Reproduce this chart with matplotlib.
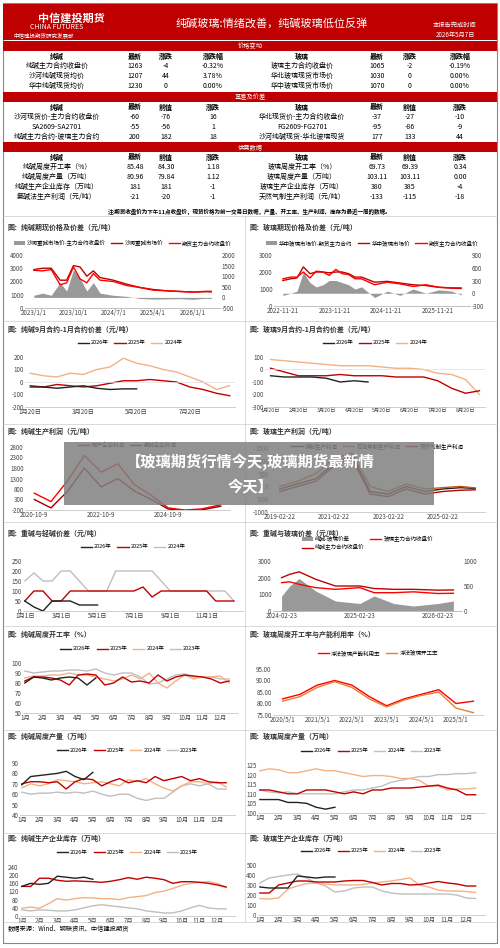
import numpy as np
import matplotlib.pyplot as plt
from matplotlib.patches import Rectangle

plt.rcParams['font.family'] = ['Noto Sans CJK SC', 'DejaVu Sans']
plt.rcParams['axes.unicode_minus'] = False

RED = '#c00000'
BLACK = '#222222'
ORANGE = '#f4b183'
GREY = '#bfbfbf'
SEASON_COLORS = {'2026年': BLACK, '2025年': RED, '2024年': ORANGE, '2023年': GREY}

# ---- tables ----
price_rows = [
    ['纯碱主力合约收盘价', '1263', '-4', '-0.32%', '玻璃主力合约收盘价', '1065', '-2', '-0.19%'],
    ['沙河纯碱现货均价', '1207', '44', '3.78%', '华北玻璃现货市场价', '1030', '0', '0.00%'],
    ['华中纯碱现货均价', '1230', '0', '0.00%', '华中玻璃现货市场价', '1070', '0', '0.00%'],
]
basis_rows = [
    ['沙河现货价-主力合约收盘价', '-60', '-76', '16', '华北现货价-主力合约收盘价', '-37', '-27', '-10'],
    ['SA2609-SA2701', '-55', '-56', '1', 'FG2609-FG2701', '-95', '-86', '-9'],
    ['纯碱主力合约-玻璃主力合约', '200', '182', '18', '沙河纯碱现货-华北玻璃现货', '177', '133', '44'],
]
supply_rows = [
    ['纯碱周度开工率（%）', '85.48', '84.30', '1.18', '玻璃周度开工率（%）', '69.73', '69.39', '0.34'],
    ['纯碱周度产量（万吨）', '80.96', '79.84', '1.12', '玻璃周度产量（万吨）', '103.11', '103.11', '0.00'],
    ['纯碱生产企业库存（万吨）', '181', '181', '-1', '玻璃生产企业库存（万吨）', '380', '385', '-4'],
    ['氨碱法生产利润（元/吨）', '-21', '-20', '-1', '天然气制生产利润（元/吨）', '-133', '-115', '-18'],
]

# ---- chart data (coarse) ----
sa_dates = ['2023-01-01', '2023-03-01', '2023-05-01', '2023-07-01', '2023-08-15', '2023-10-01', '2023-11-15',
            '2024-01-01', '2024-02-15', '2024-04-01', '2024-07-01', '2024-10-01', '2025-01-01', '2025-04-01',
            '2025-07-01', '2025-10-01', '2026-01-01', '2026-04-01', '2026-05-07']
sa_spot = [2900, 3000, 3000, 2100, 2100, 3200, 3100, 2400, 2800, 2300, 2100, 1800, 1550, 1400, 1300, 1250,
           1200, 1230, 1210]
sa_fut = [2850, 2800, 2900, 1750, 1900, 3100, 2200, 1900, 2600, 2100, 2000, 1700, 1550, 1350, 1300, 1250,
          1200, 1260, 1263]
sa_basis = [100, 200, 100, 700, 300, 1300, 900, 300, 700, 200, 100, 50, -50, -80, -70, -60, -90, -40, -60]

fg_dates = ['2022-11-21', '2023-01-15', '2023-03-01', '2023-04-15', '2023-06-01', '2023-07-15', '2023-09-01',
            '2023-10-15', '2023-12-01', '2024-01-15', '2024-03-01', '2024-04-15', '2024-06-01', '2024-09-01',
            '2024-12-01', '2025-03-01', '2025-06-01', '2025-09-01', '2025-12-01', '2026-03-01', '2026-05-07']
fg_spot = [1500, 1600, 1650, 2300, 1900, 2000, 2000, 1950, 2000, 2000, 1900, 1700, 1700, 1400, 1450, 1350,
           1250, 1200, 1100, 1050, 1030]
fg_fut = [1600, 1700, 1700, 2000, 1650, 2050, 2000, 1800, 2150, 1900, 1850, 1600, 1600, 1250, 1400, 1300,
          1150, 1250, 1100, 1070, 1065]
fg_basis = [-50, 0, 50, 500, 250, 150, 200, 300, 300, 250, 200, 100, 150, -100, 50, -50, 100, 0, 80, 50, -37]

spread_x = [1, 1.5, 2, 2.5, 3, 3.5, 4, 4.5, 5, 5.5, 6, 6.5, 7, 7.5, 8, 8.5]
sa_sp_2026 = [-40, -40, -50, -40, -30, -50, -60, -55, -55]
sa_sp_2025 = [-30, -40, -20, -30, -40, -30, -10, 10, 10, 20, 10, 0, -40, -60, -90, -110]
sa_sp_2024 = [70, 50, 40, 70, 60, 100, 120, 190, 150, 130, 100, 80, 40, 0, -60, -30]
fg_sp_2026 = [-50, -60, -60, -60, -70, -100, -90, -100]
fg_sp_2025 = [10, -20, -50, -50, -50, -40, -50, -50, -50, -60, -60, -60, -90, -150, -190, -170]
fg_sp_2024 = [80, 70, 60, 50, 40, 30, 30, 30, 20, 10, 10, 0, -30, -40, -80, -200]

profit_x = ['2020-10-09', '2021-04-09', '2021-10-09', '2022-04-09', '2022-10-09', '2023-04-09', '2023-10-09',
            '2024-04-09', '2024-10-09', '2025-04-09', '2025-10-09', '2026-05-07']
profit_lian = [600, 200, 1200, 2400, 1600, 2000, 1000, 500, -100, -200, -150, 50]
profit_an = [300, -100, 700, 1800, 900, 1300, 700, 300, -150, -250, -200, -21]
gprof_x = ['2019-02-22', '2019-10-22', '2020-06-22', '2021-02-22', '2021-10-22', '2022-06-22',
           '2023-02-22', '2023-10-22', '2024-06-22', '2025-02-22', '2025-10-22', '2026-05-07']
gprof_coal = [-100, 100, 300, 900, 1200, -200, -300, 0, -200, -100, -50, -80]
gprof_oil = [0, 200, 500, 1100, 1300, 0, -200, 100, -100, -50, 0, -60]
gprof_gas = [-200, 0, 200, 800, 1100, -300, -400, -100, -300, -200, -150, -133]

heavy_x = [1, 1.5, 2, 2.5, 3, 3.5, 4, 4.5, 5, 5.5, 6, 6.5, 7, 7.5, 8, 8.5, 9, 9.5, 10, 10.5, 11, 11.5, 12, 12.5]
heavy_2026 = [50, 20, 0, 50, 50, 50, 30, 30, 30]
heavy_2025 = [50, 100, 100, 50, 50, 100, 100, 100, 100, 100, 100, 100, 100, 120, 70, 100, 100, 100, 100, 100,
              100, 50, 50, 50]
heavy_2024 = [150, 190, 150, 150, 200, 200, 150, 100, 100, 100, 200, 200, 200, 200, 200, 150, 100, 100, 100,
              100, 100, 100, 100, 50]

hg_dates = ['2024-02-23', '2024-04-01', '2024-05-15', '2024-08-01', '2024-11-01', '2025-02-23', '2025-05-01',
            '2025-08-01', '2025-11-01', '2026-02-23', '2026-05-07']
hg_sa = [2000, 2200, 2350, 1900, 1500, 1500, 1350, 1300, 1300, 1250, 1263]
hg_fg = [1700, 1750, 1600, 1400, 1300, 1400, 1100, 1100, 1150, 1050, 1065]
hg_diff = [300, 500, 650, 400, 200, 150, 300, 150, 100, 150, 200]

rate_x = [1, 1.5, 2, 2.5, 3, 3.5, 4, 4.5, 5, 5.5, 6, 6.5, 7, 7.5, 8, 8.5, 9, 9.5, 10, 10.5, 11, 11.5, 12, 12.5]
sa_rate_2026 = [80, 86, 85, 83, 85, 86, 85, 78, 85]
sa_rate_2025 = [82, 86, 86, 85, 83, 78, 88, 89, 88, 78, 80, 86, 81, 82, 80, 88, 82, 86, 88, 87, 86, 84, 80, 82]
sa_rate_2024 = [85, 87, 87, 88, 88, 90, 88, 88, 86, 84, 82, 84, 88, 84, 90, 80, 75, 82, 88, 84, 86, 86, 87, 80]
sa_rate_2023 = [92, 90, 91, 92, 92, 93, 93, 92, 94, 90, 88, 90, 90, 86, 79, 80, 84, 88, 89, 86, 86, 86, 84, 84]
fg_rate_x = ['2020-05-01', '2020-11-01', '2021-05-01', '2021-11-01', '2022-05-01', '2022-11-01', '2023-05-01',
             '2023-11-01', '2024-05-01', '2024-11-01', '2025-05-01', '2025-11-01']
fg_capacity = [82, 84, 88, 90, 88, 83, 79, 82, 84, 86, 80, 81]
fg_running = [81, 83, 87, 89.5, 87, 82, 78.5, 81.5, 83.5, 85, 78, 76]

sa_out_2026 = [69, 77, 78, 79, 80, 82, 77, 74, 81]
sa_out_2025 = [70, 72, 72, 71, 72, 65, 72, 75, 74, 68, 72, 75, 71, 73, 71, 77, 73, 75, 77, 73, 75, 72, 71, 71]
sa_out_2024 = [66, 70, 68, 70, 74, 73, 72, 70, 71, 72, 70, 68, 74, 72, 75, 70, 66, 63, 68, 72, 72, 70, 72, 67]
sa_out_2023 = [62, 60, 61, 61, 62, 61, 62, 61, 63, 60, 58, 60, 60, 56, 54, 56, 56, 62, 68, 70, 68, 70, 65, 65]
fg_out_2026 = [107, 107, 107, 105.5, 105.5, 105, 103, 102, 103]
fg_out_2025 = [112, 112, 111, 110, 110, 112, 112, 112, 111, 110, 111, 110, 112, 112, 113, 113, 113, 113.5, 114,
               114.5, 113, 112, 109.5, 109.5]
fg_out_2024 = [122, 123, 122.5, 121, 121, 122, 123, 122, 122, 121, 120, 119, 119.5, 119.5, 119, 118, 118, 117,
               114, 114, 112, 112.5, 112.5, 113]
fg_out_2023 = [112, 111, 110.5, 111, 110, 110, 110, 110, 110, 111, 112, 112, 113, 114, 116, 117, 118, 119, 119,
               120, 120, 120.5, 120.5, 121]

sa_inv_2026 = [145, 160, 155, 160, 195, 190, 185, 190, 180]
sa_inv_2025 = [145, 145, 185, 185, 175, 170, 172, 170, 168, 165, 170, 178, 188, 180, 190, 185, 178, 160, 168,
               168, 165, 160, 152, 142]
sa_inv_2024 = [38, 44, 38, 60, 85, 78, 85, 90, 88, 85, 85, 80, 90, 95, 100, 115, 122, 135, 150, 160, 165, 168,
               160, 140]
sa_inv_2023 = [30, 25, 30, 28, 25, 25, 30, 40, 50, 55, 50, 45, 40, 35, 25, 20, 15, 15, 25, 40, 52, 40, 35, 35]
fg_inv_2026 = [280, 270, 270, 270, 390, 380, 370, 380, 380]
fg_inv_2025 = [220, 220, 300, 320, 340, 340, 330, 330, 330, 340, 345, 345, 325, 300, 315, 315, 300, 305, 320,
               335, 320, 310, 290, 290]
fg_inv_2024 = [165, 160, 170, 260, 290, 315, 320, 310, 300, 300, 300, 305, 320, 330, 340, 355, 370, 300, 280,
               250, 240, 240, 235, 225]
fg_inv_2023 = [320, 370, 385, 400, 410, 370, 320, 290, 230, 240, 270, 280, 280, 240, 220, 210, 210, 210, 210,
               210, 210, 200, 170, 165]


fig = plt.figure(figsize=(5, 9.48), dpi=100)


def box(x, y, w, h):
    return [x / 500, 1 - (y + h) / 948, w / 500, h / 948]


def ftext(x, y, s, **kw):
    kw.setdefault('fontsize', 5)
    kw.setdefault('ha', 'center')
    kw.setdefault('va', 'center')
    fig.text(x / 500, 1 - y / 948, s, **kw)


def frect(x, y, w, h, **kw):
    fig.patches.append(Rectangle((x / 500, 1 - (y + h) / 948), w / 500, h / 948,
                                 transform=fig.transFigure, figure=fig, **kw))


def dt(lst):
    return np.array([np.datetime64(s) for s in lst])


# outer frame and header
frect(3, 3, 494, 940, fill=False, ec='#888888', lw=0.8)
frect(3, 4, 494, 36, fc='#c00000', ec='none')
ftext(38, 18, '中信建投期货', fontsize=8, color='white', weight='bold', ha='left')
ftext(30, 27, 'CHINA FUTURES', fontsize=5, color='white', ha='left')
ftext(14, 35, '中信建投期货研究发展部', fontsize=4, color='white', ha='left')
ftext(272, 23, '纯碱玻璃:情绪改善，纯碱玻璃低位反弹', fontsize=8, color='white')
ftext(455, 25, '本报告完成时间', fontsize=4.5, color='white')
ftext(455, 35, '2026年5月7日', fontsize=4.5, color='white')

cols = [57, 135, 166, 213, 302, 377, 410, 460]


def section(y0, title, head, rows):
    frect(3, y0, 494, 9.5, fc='#c00000', ec='none')
    ftext(250, y0 + 5, title, color='white', fontsize=4.5)
    y = y0 + 15
    for c, s in zip(cols, head):
        ftext(c, y, s, weight='bold')
    for r in rows:
        y += 10
        for c, s in zip(cols, r):
            ftext(c, y, s)
    return y


section(41, '价格变动', ['纯碱', '最新', '涨跌', '涨跌幅', '玻璃', '最新', '涨跌', '涨跌幅'], price_rows)
section(92, '基差及价差', ['纯碱', '最新', '前值', '涨跌', '玻璃', '最新', '前值', '涨跌'], basis_rows)
section(142, '供需数据', ['纯碱', '最新', '前值', '涨跌', '玻璃', '最新', '前值', '涨跌'], supply_rows)
ftext(250, 212, '注:期货收盘价为下午11点收盘价，现货价格为前一交易日数据，产量、开工率、生产利润、库存为最近一周的数据。',
      fontsize=4, weight='bold')


def style(ax, yt, ylim, xt=None, xl=None):
    ax.set_ylim(ylim)
    ax.set_yticks(yt)
    ax.tick_params(labelsize=4.5, length=0, pad=1, colors='#444444')
    for s in ['top', 'right', 'left']:
        ax.spines[s].set_visible(False)
    ax.spines['bottom'].set_color('#bbbbbb')
    ax.spines['bottom'].set_linewidth(0.5)
    if xt is not None:
        ax.set_xticks(xt)
        ax.set_xticklabels(xl)


def legend(ax, handles_labels, ypx, ncol=None):
    hs = [h for h, _ in handles_labels]
    ls = [l for _, l in handles_labels]
    h = ax.get_position().height * 948
    ax.legend(hs, ls, loc='center', bbox_to_anchor=(0.5, 1 + ypx / h), ncol=ncol or len(hs), fontsize=4,
              frameon=False, handlelength=2, columnspacing=1, borderaxespad=0, handletextpad=0.4)


def panel_title(x, y, s):
    ftext(x, y, s, fontsize=5, weight='bold', ha='left', color='#333333')


month_x = [1, 2, 3, 4, 5, 6, 7, 8, 9, 10, 11, 12]
month_l = [f'{m}月' for m in month_x]


def seasonal(rect, series, yt, ylim):
    ax = fig.add_axes(box(*rect))
    hl = []
    for lab, vals in series:
        h, = ax.plot(rate_x[:len(vals)], vals, color=SEASON_COLORS[lab], lw=1)
        hl.append((h, lab))
    style(ax, yt, ylim, month_x, month_l)
    ax.set_xlim(0.9, 13)
    return ax, hl


# row1: price + basis
panel_title(8, 227, '图：纯碱期现价格及价差（元/吨）')
panel_title(249, 227, '图：玻璃期现价格及价差（元/吨）')
for rect, dates, basis, spot, fut, yt, ylim, y2t, y2lim, xt, labs in [
        ((25, 255, 195, 53), sa_dates, sa_basis, sa_spot, sa_fut, [0, 1000, 2000, 3000, 4000], (0, 4000),
         [-500, 0, 500, 1000, 1500, 2000], (-500, 2000),
         ['2023-01-01', '2023-10-01', '2024-07-01', '2025-04-01', '2026-01-01'],
         ['沙河重碱市场价-主力合约收盘价', '沙河重碱市场价', '期货主力合约收盘价']),
        ((274, 255, 196, 51), fg_dates, fg_basis, fg_spot, fg_fut, [0, 1000, 2000, 3000], (0, 3000),
         [-300, 0, 300, 600, 900], (-300, 900),
         ['2022-11-21', '2023-11-21', '2024-11-21', '2025-11-21'],
         ['华中玻璃市场价-期货主力合约', '华中玻璃市场价', '期货主力合约收盘价'])]:
    ax = fig.add_axes(box(*rect))
    d = dt(dates)
    ax2 = ax.twinx()
    ax2.fill_between(d, 0, basis, color='#999999', lw=0)
    h1, = ax.plot(d, spot, color=RED, lw=1)
    h2, = ax.plot(d, fut, color='#ff0000', lw=1)
    ax.set_zorder(2)
    ax.patch.set_visible(False)
    style(ax, yt, ylim)
    style(ax2, y2t, y2lim)
    ax.set_xticks(dt(xt))
    if dates is sa_dates:
        ax.set_xticklabels([s[:4] + '/' + str(int(s[5:7])) + '/1' for s in xt])
    else:
        ax.set_xticklabels(xt)
    legend(ax, [(Rectangle((0, 0), 1, 1, fc='#999999'), labs[0]), (h1, labs[1]), (h2, labs[2])], 12)

# row2: 9-1 spreads
panel_title(8, 329, '图：纯碱9月合约-1月合约价差（元/吨）')
panel_title(249, 329, '图：玻璃9月合约-1月合约价差（元/吨）')
for rect, s26, s25, s24, yt, ylim, xt in [
        ((25, 357, 210, 50), sa_sp_2026, sa_sp_2025, sa_sp_2024, [-200, -100, 0, 100, 200], (-200, 200),
         [1, 3, 5, 7]),
        ((265, 357, 220, 50), fg_sp_2026, fg_sp_2025, fg_sp_2024, [-300, -200, -100, 0, 100], (-300, 100),
         [1, 2, 3, 4, 5, 6, 7, 8])]:
    ax = fig.add_axes(box(*rect))
    h3, = ax.plot(spread_x[:len(s24)], s24, color=ORANGE, lw=1)
    h2, = ax.plot(spread_x[:len(s25)], s25, color=RED, lw=1)
    h1, = ax.plot(spread_x[:len(s26)], s26, color=BLACK, lw=1)
    style(ax, yt, ylim, xt, [f'{m}月20日' for m in xt])
    ax.tick_params(axis='x', labelsize=3.8 if len(xt) > 4 else 4.5)
    ax.set_xlim(0.8, 8.7)
    ax.axhline(0, color='#dddddd', lw=0.5)
    legend(ax, [(h1, '2026年'), (h2, '2025年'), (h3, '2024年')], 14)

# row3: profits
panel_title(8, 431, '图：纯碱生产利润（元/吨）')
panel_title(249, 431, '图：玻璃生产利润（元/吨）')
ax = fig.add_axes(box(25, 447, 205, 63))
d = dt(profit_x)
h1, = ax.plot(d, profit_lian, color='#ff0000', lw=1)
h2, = ax.plot(d, profit_an, color='#a00000', lw=1)
style(ax, [-200, 300, 800, 1300, 1800, 2300, 2800], (-200, 2800))
xt = ['2020-10-09', '2022-10-09', '2024-10-09']
ax.set_xticks(dt(xt))
ax.set_xticklabels(['2020-10-9', '2022-10-9', '2024-10-9'])
legend(ax, [(h1, '联产企业利润'), (h2, '氨碱企业利润')], 2)
ax = fig.add_axes(box(270, 448, 215, 64))
d = dt(gprof_x)
h1, = ax.plot(d, gprof_coal, color=BLACK, lw=1)
h2, = ax.plot(d, gprof_oil, color='#c55a11', lw=1)
h3, = ax.plot(d, gprof_gas, color=RED, lw=1)
style(ax, [-1000, -500, 0, 500, 1000, 1500], (-1000, 1500))
xt = ['2019-02-22', '2021-02-22', '2023-02-22', '2025-02-22']
ax.set_xticks(dt(xt))
ax.set_xticklabels(xt)
legend(ax, [(h1, '煤制生产利润'), (h2, '石油焦制生产利润'), (h3, '天然气制生产利润')], 2)

# row4
panel_title(8, 533, '图：重碱与轻碱价差（元/吨）')
panel_title(249, 533, '图：重碱与玻璃价差（元/吨）')
ax = fig.add_axes(box(23, 561, 220, 50))
h3, = ax.plot(heavy_x, heavy_2024, color=GREY, lw=1)
h2, = ax.plot(heavy_x, heavy_2025, color=RED, lw=1)
h1, = ax.plot(heavy_x[:len(heavy_2026)], heavy_2026, color=BLACK, lw=1)
style(ax, [0, 50, 100, 150, 200, 250], (0, 250), [1, 3, 5, 7, 9, 11], ['1月1日', '3月1日', '5月1日', '7月1日',
                                                                      '9月1日', '11月1日'])
ax.set_xlim(0.9, 13)
legend(ax, [(h1, '2026年'), (h2, '2025年'), (h3, '2024年')], 14)
ax = fig.add_axes(box(273, 561, 189, 50))
d = dt(hg_dates)
ax2 = ax.twinx()
ax2.fill_between(d, 0, hg_diff, color='#999999', lw=0)
h1, = ax.plot(d, hg_sa, color=RED, lw=1)
h2, = ax.plot(d, hg_fg, color='#ff0000', lw=1)
ax.set_zorder(2)
ax.patch.set_visible(False)
style(ax, [0, 1000, 2000, 3000], (0, 3000))
style(ax2, [0, 500, 1000], (0, 1000))
xt = ['2024-02-23', '2025-02-23', '2026-02-23']
ax.set_xticks(dt(xt))
ax.set_xticklabels(xt)
legend(ax, [(Rectangle((0, 0), 1, 1, fc='#999999'), '纯碱-玻璃价差'), (h1, '纯碱主力合约收盘价'),
            (h2, '玻璃主力合约收盘价')], 18, ncol=2)

# row5
panel_title(8, 634, '图：纯碱周度开工率（%）')
panel_title(249, 634, '图：玻璃周度开工率与产能利用率（%）')
ax, hl = seasonal((23, 663, 215, 50), [('2023年', sa_rate_2023), ('2024年', sa_rate_2024),
                                        ('2025年', sa_rate_2025), ('2026年', sa_rate_2026)],
                  [50, 60, 70, 80, 90, 100], (50, 100))
legend(ax, hl[::-1], 14)
ax = fig.add_axes(box(273, 669, 210, 46))
d = dt(fg_rate_x)
h1, = ax.plot(d, fg_capacity, color='#ff0000', lw=1)
h2, = ax.plot(d, fg_running, color='#ed7d31', lw=1)
style(ax, [75, 80, 85, 90, 95], (75, 95))
ax.set_yticklabels(['75.00', '80.00', '85.00', '90.00', '95.00'])
ax.set_xticks(d[::2])
ax.set_xticklabels([s[:4] + '/5/1' for s in fg_rate_x[::2]])
legend(ax, [(h1, '浮法玻璃产能利用率'), (h2, '浮法玻璃开工率')], 16)

# row6
panel_title(8, 736, '图：纯碱周度产量（万吨）')
panel_title(249, 736, '图：玻璃周度产量（万吨）')
ax, hl = seasonal((20, 763, 215, 52), [('2023年', sa_out_2023), ('2024年', sa_out_2024),
                                        ('2025年', sa_out_2025), ('2026年', sa_out_2026)],
                  [40, 50, 60, 70, 80, 90], (40, 90))
legend(ax, hl[::-1], 13)
ax, hl = seasonal((258, 765, 227, 48), [('2023年', fg_out_2023), ('2024年', fg_out_2024),
                                         ('2025年', fg_out_2025), ('2026年', fg_out_2026)],
                  [100, 105, 110, 115, 120, 125], (100, 125))
legend(ax, hl[::-1], 14)

# row7
panel_title(8, 838, '图：纯碱生产企业库存（万吨）')
panel_title(249, 838, '图：玻璃生产企业库存（万吨）')
ax, hl = seasonal((20, 867, 215, 49), [('2023年', sa_inv_2023), ('2024年', sa_inv_2024),
                                        ('2025年', sa_inv_2025), ('2026年', sa_inv_2026)],
                  [0, 40, 80, 120, 160, 200, 240], (0, 240))
legend(ax, hl[::-1], 15)
ax, hl = seasonal((258, 865, 227, 50), [('2023年', fg_inv_2023), ('2024年', fg_inv_2024),
                                         ('2025年', fg_inv_2025), ('2026年', fg_inv_2026)],
                  [0, 100, 200, 300, 400, 500], (0, 500))
legend(ax, hl[::-1], 14)

# separators and source
for yy in [216, 321, 424, 522, 626, 730, 833, 922]:
    frect(3, yy, 494, 0.01, fc='none', ec='#cccccc', lw=0.5)
frect(245, 216, 0.01, 706, fc='none', ec='#cccccc', lw=0.5)
ftext(8, 928, '数据来源：Wind、钢联资讯、中信建投期货', fontsize=4.5, ha='left', style='italic')

# overlay banner
frect(64, 442, 370, 63, fc='#808080', ec='none', alpha=0.85, zorder=10)
ftext(250, 462, '【玻璃期货行情今天,玻璃期货最新情', fontsize=11, color='white', weight='bold', zorder=11)
ftext(250, 487, '今天】', fontsize=11, color='white', weight='bold', zorder=11)

fig.savefig('out.png', dpi=100)
